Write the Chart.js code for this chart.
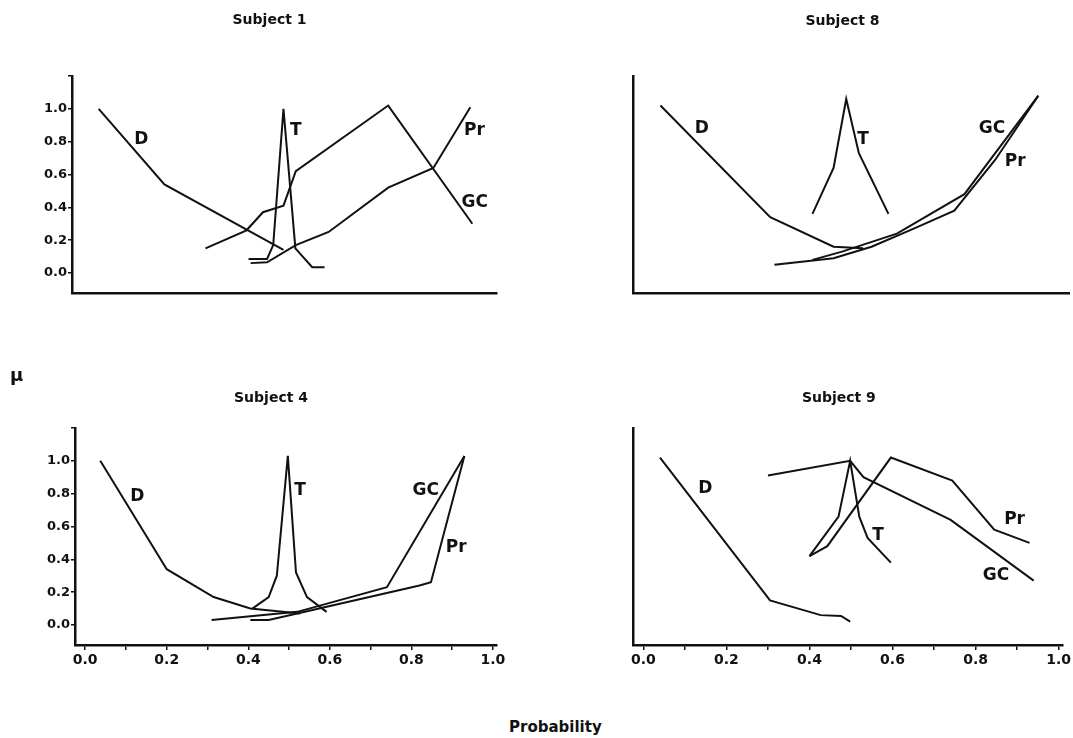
<!DOCTYPE html>
<html>
<head>
<meta charset="utf-8">
<script src="https://cdn.jsdelivr.net/npm/chart.js@4/dist/chart.umd.min.js"></script>
<style>
  body { margin: 0; background: #fff; width: 1073px; height: 738px; position: relative; overflow: hidden; }
  canvas { position: absolute; }
  .txt { position: absolute; font-family: "DejaVu Sans", sans-serif; font-weight: bold; color: #111; }
</style>
</head>
<body>
<canvas id="s1"></canvas>
<canvas id="s8"></canvas>
<canvas id="s4"></canvas>
<canvas id="s9"></canvas>
<div class="txt" style="left:10px;top:364px;font-size:18px;">μ</div>
<div class="txt" style="left:509px;top:718px;font-size:15px;">Probability</div>
<script>
// tick labels
const xTickLabels = ['0.0', '0.2', '0.4', '0.6', '0.8', '1.0'];
const yTickLabels = ['0.0', '0.2', '0.4', '0.6', '0.8', '1.0'];

// Subject 1
const s1D  = [[0.04, 1.0], [0.2, 0.54], [0.49, 0.14]];
const s1T  = [[0.405, 0.085], [0.45, 0.085], [0.465, 0.17], [0.49, 1.0], [0.519, 0.15], [0.56, 0.035], [0.59, 0.035]];
const s1GC = [[0.30, 0.15], [0.40, 0.26], [0.44, 0.37], [0.49, 0.41], [0.52, 0.62], [0.745, 1.02], [0.95, 0.30]];
const s1Pr = [[0.41, 0.06], [0.45, 0.065], [0.52, 0.17], [0.60, 0.25], [0.745, 0.52], [0.855, 0.64], [0.945, 1.01]];
const s1Labels = [['D', 0.144, 0.81], ['T', 0.52, 0.87], ['Pr', 0.955, 0.87], ['GC', 0.956, 0.43]];

// Subject 8
const s8D  = [[0.04, 1.02], [0.30, 0.34], [0.45, 0.16], [0.52, 0.15]];
const s8T  = [[0.40, 0.36], [0.45, 0.64], [0.48, 1.06], [0.51, 0.73], [0.58, 0.36]];
const s8GC = [[0.40, 0.08], [0.47, 0.13], [0.60, 0.24], [0.76, 0.48], [0.935, 1.08]];
const s8Pr = [[0.31, 0.05], [0.45, 0.09], [0.54, 0.16], [0.64, 0.27], [0.736, 0.38], [0.833, 0.69], [0.935, 1.08]];
const s8Labels = [['D', 0.138, 0.88], ['T', 0.52, 0.81], ['GC', 0.825, 0.88], ['Pr', 0.88, 0.68]];

// Subject 4
const s4D  = [[0.037, 1.0], [0.20, 0.34], [0.315, 0.17], [0.405, 0.10], [0.527, 0.07]];
const s4T  = [[0.41, 0.10], [0.45, 0.17], [0.47, 0.30], [0.497, 1.03], [0.517, 0.32], [0.544, 0.17], [0.592, 0.08]];
const s4GC = [[0.31, 0.03], [0.52, 0.08], [0.74, 0.23], [0.93, 1.03]];
const s4Pr = [[0.405, 0.03], [0.45, 0.03], [0.52, 0.07], [0.82, 0.24], [0.848, 0.26], [0.93, 1.03]];
const s4Labels = [['D', 0.128, 0.78], ['T', 0.527, 0.82], ['GC', 0.835, 0.82], ['Pr', 0.91, 0.47]];

// Subject 9
const s9D  = [[0.04, 1.02], [0.305, 0.15], [0.427, 0.06], [0.476, 0.055], [0.498, 0.02]];
const s9T  = [[0.40, 0.42], [0.47, 0.66], [0.498, 1.0], [0.52, 0.66], [0.54, 0.53], [0.596, 0.38]];
const s9GC = [[0.30, 0.91], [0.498, 1.0], [0.53, 0.90], [0.74, 0.64], [0.94, 0.27]];
const s9Pr = [[0.40, 0.42], [0.443, 0.48], [0.596, 1.02], [0.744, 0.88], [0.845, 0.58], [0.93, 0.50]];
const s9Labels = [['D', 0.149, 0.83], ['T', 0.565, 0.545], ['Pr', 0.894, 0.64], ['GC', 0.849, 0.30]];

const FONT = '"DejaVu Sans", sans-serif';
const INK = '#111';

// draws curve labels and the subject title
const textPlugin = {
  id: 'texts',
  afterDatasetsDraw(chart, args, opts) {
    const ctx = chart.ctx;
    const xs = chart.scales.x, ys = chart.scales.y;
    ctx.save();
    ctx.fillStyle = INK;
    ctx.textAlign = 'center';
    ctx.textBaseline = 'middle';
    ctx.font = 'bold 17px ' + FONT;
    opts.labels.forEach(l => {
      ctx.fillText(l[0], xs.getPixelForValue(l[1]), ys.getPixelForValue(l[2]));
    });
    ctx.font = 'bold 14px ' + FONT;
    ctx.fillText(opts.title, (chart.chartArea.left + chart.chartArea.right) / 2 + opts.titleDx, opts.titleY);
    ctx.restore();
  }
};

function makeChart(id, pos, title, series, labels, cfg) {
  const cv = document.getElementById(id);
  cv.style.left = pos.left + 'px';
  cv.style.top = pos.top + 'px';
  cv.width = pos.width;
  cv.height = pos.height;
  cv.style.width = pos.width + 'px';
  cv.style.height = pos.height + 'px';
  new Chart(cv, {
    type: 'scatter',
    data: {
      datasets: series.map(s => ({
        data: s.map(p => ({ x: p[0], y: p[1] })),
        showLine: true,
        borderColor: INK,
        borderWidth: 2,
        pointRadius: 0,
        tension: 0,
        fill: false
      }))
    },
    options: {
      responsive: false,
      animation: false,
      layout: { padding: { top: cfg.padTop, right: cfg.padRight, left: 0, bottom: 0 } },
      plugins: {
        legend: { display: false },
        tooltip: { enabled: false },
        texts: { labels: labels, title: title, titleY: cfg.titleY, titleDx: cfg.titleDx }
      },
      scales: {
        x: {
          type: 'linear',
          min: -0.025, max: 1.01,
          border: { display: true, color: INK, width: 2.5 },
          grid: { display: cfg.xTicks, drawOnChartArea: false, color: INK, lineWidth: 1.5, tickLength: 5 },
          ticks: {
            display: cfg.xTicks,
            stepSize: 0.1,
            includeBounds: false,
            color: INK,
            padding: 2,
            font: { family: FONT, weight: 'bold', size: 14 },
            callback: v => {
              const i = Math.round(v * 10);
              return i % 2 === 0 ? xTickLabels[i / 2] : '';
            }
          },
          afterFit: s => { s.height = cfg.xHeight; }
        },
        y: {
          type: 'linear',
          min: -0.122, max: 1.2,
          border: { display: true, color: INK, width: 2.5 },
          grid: { display: cfg.yTicks, drawOnChartArea: false, color: INK, lineWidth: 1.5, tickLength: 4 },
          ticks: {
            display: cfg.yTicks,
            stepSize: 0.2,
            includeBounds: false,
            color: INK,
            padding: 1,
            font: { family: FONT, weight: 'bold', size: 13 },
            callback: v => yTickLabels[Math.round(v * 5)] || ''
          },
          afterFit: s => { s.width = cfg.yWidth; }
        }
      }
    },
    plugins: [textPlugin]
  });
}

makeChart('s1', { left: 0, top: 0, width: 510, height: 310 }, 'Subject 1',
  [s1D, s1T, s1GC, s1Pr], s1Labels,
  { padTop: 76, padRight: 13, xHeight: 17, yWidth: 72, xTicks: false, yTicks: true, titleY: 20, titleDx: -15 });
makeChart('s8', { left: 560, top: 0, width: 510, height: 310 }, 'Subject 8',
  [s8D, s8T, s8GC, s8Pr], s8Labels,
  { padTop: 76, padRight: 0, xHeight: 17, yWidth: 73, xTicks: false, yTicks: false, titleY: 21, titleDx: -9 });
makeChart('s4', { left: 0, top: 370, width: 510, height: 330 }, 'Subject 4',
  [s4D, s4T, s4GC, s4Pr], s4Labels,
  { padTop: 58, padRight: 13, xHeight: 55, yWidth: 75, xTicks: true, yTicks: true, titleY: 28, titleDx: -15 });
makeChart('s9', { left: 560, top: 370, width: 513, height: 330 }, 'Subject 9',
  [s9D, s9T, s9GC, s9Pr], s9Labels,
  { padTop: 58, padRight: 0, xHeight: 55, yWidth: 73, xTicks: true, yTicks: false, titleY: 28, titleDx: -9 });
</script>
</body>
</html>
